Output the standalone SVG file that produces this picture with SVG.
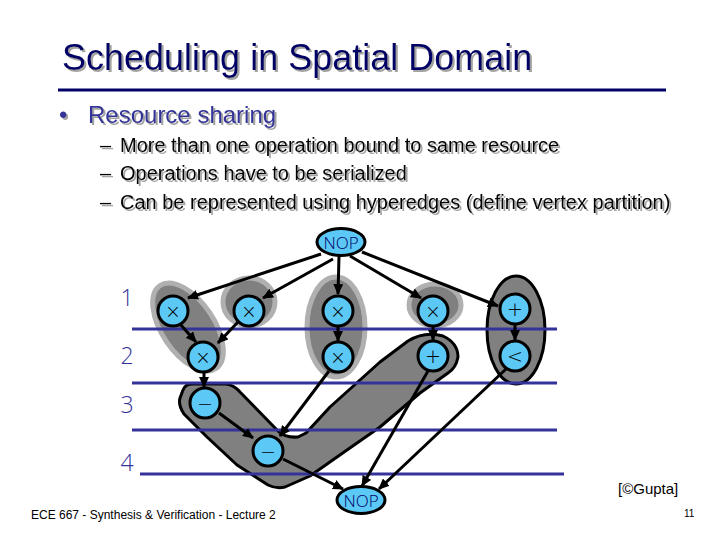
<svg xmlns="http://www.w3.org/2000/svg" width="720" height="540" viewBox="0 0 720 540">
<style>
.title{font-family:"Liberation Sans",Arial,sans-serif;font-size:36px;fill:#000066}
.l1{font-family:"Liberation Sans",Arial,sans-serif;font-size:24px;fill:#333399}
.l2{font-family:"Liberation Sans",Arial,sans-serif;font-size:20px;fill:#000}
.foot{font-family:"Liberation Sans",Arial,sans-serif;fill:#000}
.row{font-family:"Open Sans","DejaVu Sans",sans-serif;font-weight:300;font-size:23px;fill:#333399;text-anchor:middle}
.op{fill:#5cc8f5;stroke:#000;stroke-width:3}
.sym{font-family:"DejaVu Sans",sans-serif;font-weight:200;font-size:19px;fill:#000;text-anchor:middle;dominant-baseline:central}
.nop{font-family:"Open Sans","DejaVu Sans",sans-serif;font-weight:300;font-size:17px;fill:#000066;text-anchor:middle;dominant-baseline:central}
.he{fill:#808080;stroke:#b0b0b0;stroke-width:5}
.heb{fill:#808080;stroke:#000;stroke-width:3;stroke-linejoin:round}
.grid{stroke:#333399;stroke-width:3}
.e{stroke:#000;stroke-width:3;fill:none;marker-end:url(#ah)}
</style>
<defs>
<marker id="ah" markerUnits="userSpaceOnUse" markerWidth="11" markerHeight="10" refX="10" refY="5" orient="auto">
<path d="M0,0 L11,5 L0,10 z" fill="#000"/>
</marker>
<filter id="sh" x="-5%" y="-30%" width="110%" height="160%">
<feDropShadow dx="2" dy="2" stdDeviation="0.6" flood-color="#999999" flood-opacity="0.9"/>
</filter>
</defs>
<rect width="720" height="540" fill="#fff"/>

<g id="header">
<text class="title" x="62" y="70" filter="url(#sh)">Scheduling in Spatial Domain</text>
<line x1="58" y1="90" x2="666" y2="90" stroke="#000066" stroke-width="3"/>
<text class="l1" x="59" y="123" filter="url(#sh)">•</text>
<text class="l1" x="88" y="123" filter="url(#sh)">Resource sharing</text>
<text class="l2" x="100" y="152" filter="url(#sh)">–</text>
<text class="l2" x="120" y="152" filter="url(#sh)">More than one operation bound to same resource</text>
<text class="l2" x="100" y="180" filter="url(#sh)">–</text>
<text class="l2" x="120" y="180" filter="url(#sh)">Operations have to be serialized</text>
<text class="l2" x="100" y="209" filter="url(#sh)">–</text>
<text class="l2" x="120" y="209" filter="url(#sh)">Can be represented using hyperedges (define vertex partition)</text>
</g>

<g id="hyperedges">
<ellipse class="he" cx="188" cy="327" rx="50" ry="26" transform="rotate(56 188 327)"/>
<ellipse class="he" cx="249" cy="302" rx="26" ry="24"/>
<ellipse class="he" cx="336" cy="327" rx="29" ry="50"/>
<ellipse class="he" cx="435" cy="305" rx="26" ry="21"/>
<ellipse class="heb" cx="516" cy="330" rx="29" ry="54"/>
<path class="heb" d="M183,390 Q185,384 193,384 L226,384 Q234,385 240,392 L278,431 Q285,438 298,437 L306,433 L330,407 L380,362 L408,341 Q425,331 443,336 Q458,343 458,357 Q456,368 448,373 L420,393 L380,427 L347,450 L310,476 L285,487 Q276,489 268,485 L237,465 L207,437 L184,414 Q178,405 180,398 Z"/>
</g>

<g id="steps">
<line class="grid" x1="132" y1="329" x2="557" y2="329"/>
<line class="grid" x1="132" y1="383" x2="557" y2="383"/>
<line class="grid" x1="132" y1="430" x2="557" y2="430"/>
<line class="grid" x1="140" y1="474" x2="564" y2="474"/>
<text class="row" x="127" y="306">1</text>
<text class="row" x="127" y="364">2</text>
<text class="row" x="127" y="413">3</text>
<text class="row" x="127" y="471">4</text>
</g>

<g id="connectors">
<line class="e" x1="321" y1="254" x2="188" y2="298"/>
<line class="e" x1="333" y1="259" x2="263" y2="298"/>
<line class="e" x1="339" y1="256" x2="338" y2="294"/>
<line class="e" x1="350" y1="256" x2="421" y2="298"/>
<line class="e" x1="362" y1="252" x2="498" y2="306"/>
<line class="e" x1="180" y1="324" x2="196" y2="342"/>
<line class="e" x1="238" y1="322" x2="218" y2="343"/>
<line class="e" x1="338" y1="327" x2="338" y2="341"/>
<line class="e" x1="433" y1="327" x2="433" y2="340"/>
<line class="e" x1="515" y1="325" x2="515" y2="340"/>
<line class="e" x1="204" y1="373" x2="204" y2="387"/>
<line class="e" x1="219" y1="413" x2="253" y2="438"/>
<line class="e" x1="329" y1="371" x2="280" y2="436"/>
<line class="e" x1="283" y1="459" x2="343" y2="489"/>
<line class="e" x1="428" y1="371" x2="362" y2="486"/>
<line class="e" x1="506" y1="369" x2="379" y2="489"/>
</g>

<g id="nop-top"><ellipse class="op" cx="341" cy="242" rx="24" ry="13.5"/><text class="nop" x="341" y="242">NOP</text></g>
<g id="n1a"><circle class="op" cx="173" cy="311" r="15"/><text class="sym" x="173" y="311">×</text></g>
<g id="n1b"><circle class="op" cx="249" cy="311" r="15"/><text class="sym" x="249" y="311">×</text></g>
<g id="n1c"><circle class="op" cx="338" cy="311" r="15"/><text class="sym" x="338" y="311">×</text></g>
<g id="n1d"><circle class="op" cx="433" cy="311" r="15"/><text class="sym" x="433" y="311">×</text></g>
<g id="n1e"><circle class="op" cx="515" cy="309" r="15"/><text class="sym" x="515" y="309">+</text></g>
<g id="n2a"><circle class="op" cx="203" cy="357" r="15"/><text class="sym" x="203" y="357">×</text></g>
<g id="n2b"><circle class="op" cx="338" cy="357" r="15"/><text class="sym" x="338" y="357">×</text></g>
<g id="n2c"><circle class="op" cx="433" cy="356" r="15"/><text class="sym" x="433" y="356">+</text></g>
<g id="n2d"><circle class="op" cx="515" cy="356" r="15"/><text class="sym" x="515" y="356">&lt;</text></g>
<g id="n3a"><circle class="op" cx="205" cy="403" r="15"/><text class="sym" x="205" y="403">−</text></g>
<g id="n4a"><circle class="op" cx="268" cy="451" r="15"/><text class="sym" x="268" y="451">−</text></g>
<g id="nop-bottom"><ellipse class="op" cx="361" cy="500" rx="24" ry="13.5"/><text class="nop" x="361" y="500">NOP</text></g>

<g id="footer">
<text class="foot" x="31" y="519" font-size="12">ECE 667 - Synthesis &amp; Verification - Lecture 2</text>
<text class="foot" x="618" y="494" font-size="15">[©Gupta]</text>
<text class="foot" x="684" y="517" font-size="10">11</text>
</g>
</svg>
